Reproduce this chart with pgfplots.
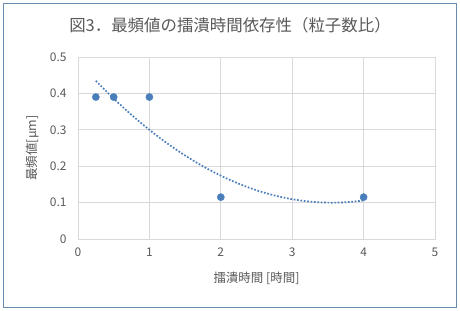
\documentclass[border=0pt]{standalone}
\usepackage{pgfplots}
\pgfplotsset{compat=1.18}
\usepackage{fontspec}
\setmainfont{Noto Sans CJK JP}
\definecolor{ptblue}{HTML}{4A7EBB}
\definecolor{gridgray}{HTML}{D9D9D9}
\definecolor{txtgray}{HTML}{595959}
\definecolor{framec}{HTML}{6A8CAF}
\begin{document}
\begin{tikzpicture}
\useasboundingbox (-78bp,-72bp) rectangle (382bp,239bp);
\begin{axis}[
  at={(0,0)}, anchor=south west,
  scale only axis, width=357bp, height=182bp,
  xmin=0, xmax=5, ymin=0, ymax=0.5,
  xtick={0,1,2,3,4,5}, ytick={0,0.1,0.2,0.3,0.4,0.5},
  yticklabel style={/pgf/number format/fixed, /pgf/number format/precision=1},
  /pgf/number format/assume math mode=true,
  major tick length=0pt,
  grid=major, major grid style={gridgray, line width=0.8bp},
  axis line style={gridgray, line width=0.8bp},
  tick label style={color=txtgray, font=\fontsize{12}{14}\selectfont},
  xticklabel style={yshift=-5bp},
  yticklabel style={xshift=-8bp},
  clip=false,
]
\addplot[ptblue, line width=1.7bp, dash pattern=on 1.7bp off 1.7bp, line cap=butt, smooth, mark=none] coordinates {
(0.25,0.4345) (0.5,0.3858) (0.75,0.3409) (1.0,0.2999) (1.25,0.2627) (1.5,0.2293)
(1.75,0.1997) (2.0,0.1740) (2.25,0.1520) (2.5,0.1339) (2.75,0.1197) (3.0,0.1093)
(3.25,0.1026) (3.5,0.0999) (3.75,0.1009) (4.0,0.1058)
};
\addplot[only marks, mark=*, mark size=3.6bp, mark options={fill=ptblue, draw=ptblue}] coordinates {
(0.25,0.39) (0.5,0.39) (1,0.39) (2,0.115) (4,0.115)
};
\end{axis}
\draw[framec, line width=1bp] (-74bp,-68bp) rectangle (378bp,235bp);
\node[txtgray, font=\fontsize{16.5}{19}\selectfont] at (152bp,214bp) {図3．最頻値の擂潰時間依存性（粒子数比）};
\node[txtgray, font=\fontsize{12.5}{14}\selectfont] at (178.5bp,-39bp) {擂潰時間 [時間]};
\node[txtgray, font=\fontsize{12.5}{14}\selectfont, rotate=90] at (-45bp,91bp) {最頻値[μm]};
\end{tikzpicture}
\end{document}
